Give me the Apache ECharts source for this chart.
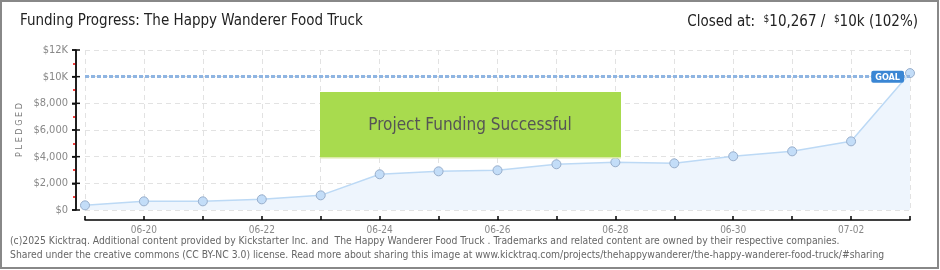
<!DOCTYPE html>
<html><head><meta charset="utf-8">
<script src="https://cdn.jsdelivr.net/npm/echarts@6/dist/echarts.min.js"></script>
<style>html,body{margin:0;padding:0;background:#fff}#c{width:940px;height:270px}</style>
</head><body><div id="c"></div>
<script>
var categories = ['06-19','06-20','06-21','06-22','06-23','06-24','06-25','06-26','06-27','06-28','06-29','06-30','07-01','07-02','07-03'];
var pledged = [350, 650, 650, 800, 1100, 2680, 2900, 2980, 3430, 3580, 3500, 4030, 4400, 5150, 10267];
var goal = 10000;
var yTicks = [0, 2000, 4000, 6000, 8000, 10000, 12000];
var yTickLabels = ['$0', '$2,000', '$4,000', '$6,000', '$8,000', '$10K', '$12K'];
var titleText = 'Funding Progress: The Happy Wanderer Food Truck';
var footer1 = '(c)2025 Kicktraq. Additional content provided by Kickstarter Inc. and  The Happy Wanderer Food Truck . Trademarks and related content are owned by their respective companies.';
var footer2 = 'Shared under the creative commons (CC BY-NC 3.0) license. Read more about sharing this image at www.kicktraq.com/projects/thehappywanderer/the-happy-wanderer-food-truck/#sharing';

var chart = echarts.init(document.getElementById('c'));
var cf = '"DejaVu Sans Condensed", "DejaVu Sans", sans-serif';
var yAxisOffset = 9;
chart.setOption({
  animation: false,
  grid: {left: 85, right: 30, top: 50, bottom: 60},
  xAxis: {
    type: 'category', data: categories, boundaryGap: false, offset: 10,
    axisLine: {onZero: false, lineStyle: {color: '#000', width: 1.5}},
    axisTick: {inside: true, length: 4, interval: 0, lineStyle: {color: '#000', width: 1.5}},
    axisLabel: {interval: function(i){return i % 2 === 1;}, color: '#888', fontSize: 10, fontFamily: cf, margin: 5},
    splitLine: {show: true, interval: 0, lineStyle: {color: '#e2e2e2', type: [5,4]}}
  },
  yAxis: {
    type: 'value', min: yTicks[0], max: yTicks[yTicks.length - 1], interval: 2000, offset: yAxisOffset, position: 'left',
    axisLine: {show: true, onZero: false, lineStyle: {color: '#111', width: 1.5}},
    axisTick: {show: true, length: 4, lineStyle: {color: '#111', width: 1.5}},
    minorTick: {show: true, splitNumber: 2, length: 3, lineStyle: {color: '#e00', width: 1.5}},
    axisLabel: {formatter: function(v){return yTickLabels[yTicks.indexOf(v)];}, color: '#888', fontSize: 11, fontFamily: cf, margin: 8},
    splitLine: {show: true, lineStyle: {color: '#e2e2e2', type: [5,4]}}
  },
  series: [{
    type: 'line', data: pledged,
    symbol: 'circle', symbolSize: 9,
    itemStyle: {color: '#c3ddf8', borderColor: '#98aecb', borderWidth: 1},
    lineStyle: {color: '#bcd9f5', width: 1.5},
    areaStyle: {color: '#eef5fd', opacity: 1},
    markLine: {
      silent: true, symbol: 'none',
      lineStyle: {color: '#8fb5e2', type: [4,2], width: 3},
      label: {show: true, formatter: 'GOAL', position: 'insideEndTop', distance: [6, -6], color: '#fff',
        backgroundColor: '#3a86d4', fontSize: 9, fontFamily: cf, fontWeight: 'bold', padding: [2,4,1,4], borderRadius: 2},
      data: [{yAxis: goal}]
    },
    z: 3
  }]
});

// y-axis line and crossing major ticks, positioned through the library's own scales
var axisX = chart.convertToPixel({xAxisIndex: 0}, categories[0]) - yAxisOffset;
var yTopPx = chart.convertToPixel({yAxisIndex: 0}, yTicks[yTicks.length - 1]);
var yBotPx = chart.convertToPixel({yAxisIndex: 0}, yTicks[0]);
var axisGraphics = [{type: 'line', z: 30, shape: {x1: axisX, y1: yTopPx, x2: axisX, y2: yBotPx}, style: {stroke: '#111', lineWidth: 1.5}}];
yTicks.forEach(function(v){
  var py = chart.convertToPixel({yAxisIndex: 0}, v);
  axisGraphics.push({type: 'line', z: 30, shape: {x1: axisX - 4, y1: py, x2: axisX + 4, y2: py}, style: {stroke: '#111', lineWidth: 1.5}});
});

chart.setOption({
  graphic: [
    {type: 'rect', shape: {x: 1, y: 1, width: 937, height: 267}, style: {fill: 'none', stroke: '#888', lineWidth: 2}, silent: true, z: 20},
    {type: 'text', left: 20, top: 14, style: {text: titleText, fill: '#222', font: '15px ' + cf}},
    {type: 'text', right: 22, top: 14, style: {
      text: '{n|Closed at:  }{s|$}{n|10,267 /  }{s|$}{n|10k (102%)}',
      rich: {n: {fill: '#222', font: '15px ' + cf}, s: {fill: '#222', font: '10px ' + cf, verticalAlign: 'top', padding: [0,0,6,0]}}
    }},
    {type: 'text', rotation: Math.PI / 2, style: {x: -130, y: 20, text: 'P L E D G E D', fill: '#777', font: '9px ' + cf,
      textAlign: 'center', verticalAlign: 'middle'}},
    {type: 'rect', z: 10, shape: {x: 320, y: 92, width: 301, height: 66}, style: {fill: '#a8db4e'}},
    {type: 'rect', z: 10, shape: {x: 320, y: 157, width: 301, height: 1.5}, style: {fill: '#dbeaa6'}},
    {type: 'text', z: 11, style: {x: 470, y: 126, text: 'Project Funding Successful', fill: '#555', font: '17px ' + cf,
      textAlign: 'center', verticalAlign: 'middle',
      textShadowColor: '#fff', textShadowOffsetX: 1, textShadowOffsetY: 1, textShadowBlur: 0}},
    {type: 'text', left: 10, top: 236, style: {text: footer1, fill: '#666', font: '10.3px ' + cf}},
    {type: 'text', left: 10, top: 250, style: {text: footer2, fill: '#666', font: '10.3px ' + cf}}
  ].concat(axisGraphics)
});
</script></body></html>
